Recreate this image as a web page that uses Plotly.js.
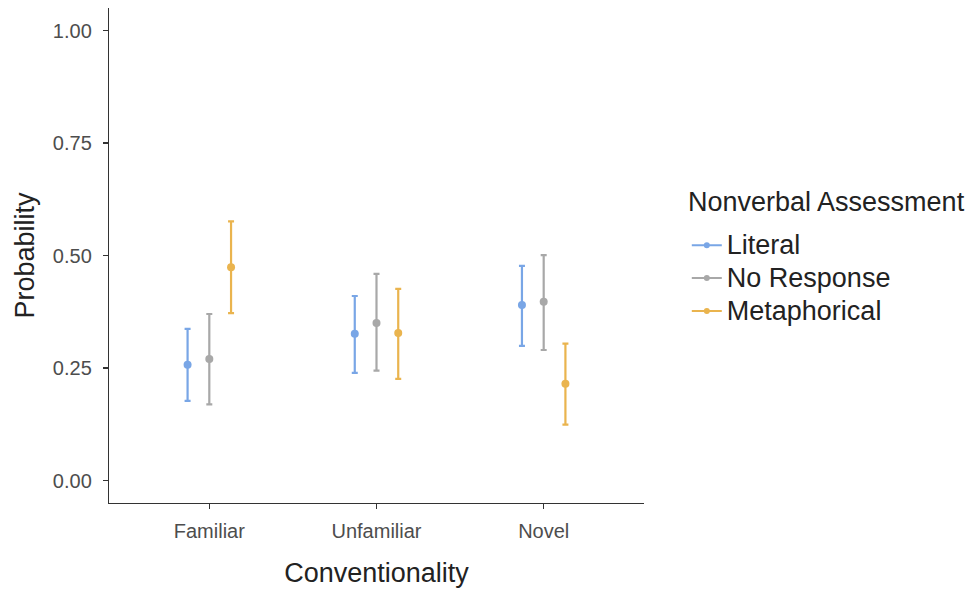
<!DOCTYPE html>
<html>
<head>
<meta charset="utf-8">
<script src="https://cdn.plot.ly/plotly-3.0.1.min.js"></script>
<style>html,body{margin:0;padding:0;background:#fff;}#chart{width:967px;height:590px;}</style>
</head>
<body>
<div id="chart"></div>
<script>
const categories = ["Familiar", "Unfamiliar", "Novel"];
const seriesNames = ["Literal", "No Response", "Metaphorical"];
const literalEst = [0.257, 0.326, 0.390];
const literalLow = [0.177, 0.239, 0.299];
const literalHigh = [0.337, 0.410, 0.477];
const noRespEst = [0.270, 0.350, 0.397];
const noRespLow = [0.169, 0.244, 0.290];
const noRespHigh = [0.370, 0.459, 0.501];
const metaEst = [0.474, 0.328, 0.215];
const metaLow = [0.372, 0.226, 0.124];
const metaHigh = [0.576, 0.426, 0.304];
const yTicks = [0, 0.25, 0.5, 0.75, 1.0];
const yTickLabels = ["0.00", "0.25", "0.50", "0.75", "1.00"];
const legendTitle = "Nonverbal Assessment";

const colors = ["#79A6E6", "#A8A8A8", "#EAB44E"];
const dodge = [-0.13, 0, 0.13];
const series = [
  [literalEst, literalLow, literalHigh],
  [noRespEst, noRespLow, noRespHigh],
  [metaEst, metaLow, metaHigh]
];

const traces = [];
series.forEach((s, i) => {
  const [est, lo, hi] = s;
  traces.push({
    type: "scatter",
    mode: "markers",
    x: categories.map((c, j) => j + 1 + dodge[i]),
    y: est,
    marker: {color: colors[i], size: 8},
    error_y: {
      type: "data", symmetric: false,
      array: est.map((v, j) => hi[j] - v),
      arrayminus: est.map((v, j) => v - lo[j]),
      color: colors[i], thickness: 2.2, width: 3
    },
    showlegend: false,
    hoverinfo: "x+y"
  });
});
series.forEach((s, i) => {
  traces.push({
    type: "scatter",
    mode: "lines+markers",
    x: [null], y: [null],
    name: '<span style="font-size:27px">' + seriesNames[i] + '</span>',
    line: {color: colors[i], width: 2},
    marker: {color: colors[i], size: 6}
  });
});

const layout = {
  width: 967, height: 590,
  margin: {l: 109, r: 323, t: 8, b: 87, autoexpand: false},
  paper_bgcolor: "#fff", plot_bgcolor: "#fff",
  font: {family: "Liberation Sans, Arial, sans-serif", color: "#333"},
  xaxis: {
    range: [0.4, 3.6],
    tickvals: categories.map((c, j) => j + 1),
    ticktext: categories,
    showgrid: false, zeroline: false,
    showline: true, linecolor: "#333", linewidth: 1.2,
    ticks: "outside", ticklen: 5, tickcolor: "#333", tickwidth: 1.2,
    ticklabelstandoff: 5,
    tickfont: {size: 20, color: "#4D4D4D"},
    automargin: false,
    title: {text: "Conventionality", font: {size: 27, color: "#222"}, standoff: 21}
  },
  yaxis: {
    range: [-0.05, 1.05],
    tickvals: yTicks, ticktext: yTickLabels,
    showgrid: false, zeroline: false,
    showline: true, linecolor: "#333", linewidth: 1.2,
    ticks: "outside", ticklen: 5, tickcolor: "#333", tickwidth: 1.2,
    ticklabelstandoff: 7,
    tickfont: {size: 20, color: "#4D4D4D"},
    automargin: false,
    title: {text: "Probability", font: {size: 27, color: "#222"}, standoff: 10}
  },
  legend: {
    x: 1.080, xanchor: "left", xref: "paper",
    y: 0.4540, yanchor: "middle",
    font: {size: 23, color: "#222"},
    tracegroupgap: 0,
    bgcolor: "rgba(0,0,0,0)"
  },
  annotations: [{
    text: legendTitle,
    xref: "paper", yref: "paper",
    x: 1.0785, y: 0.608, xanchor: "left", yanchor: "middle",
    showarrow: false,
    font: {size: 27, color: "#222"}
  }]
};

Plotly.newPlot("chart", traces, layout, {displayModeBar: false, staticPlot: true});
</script>
</body>
</html>
